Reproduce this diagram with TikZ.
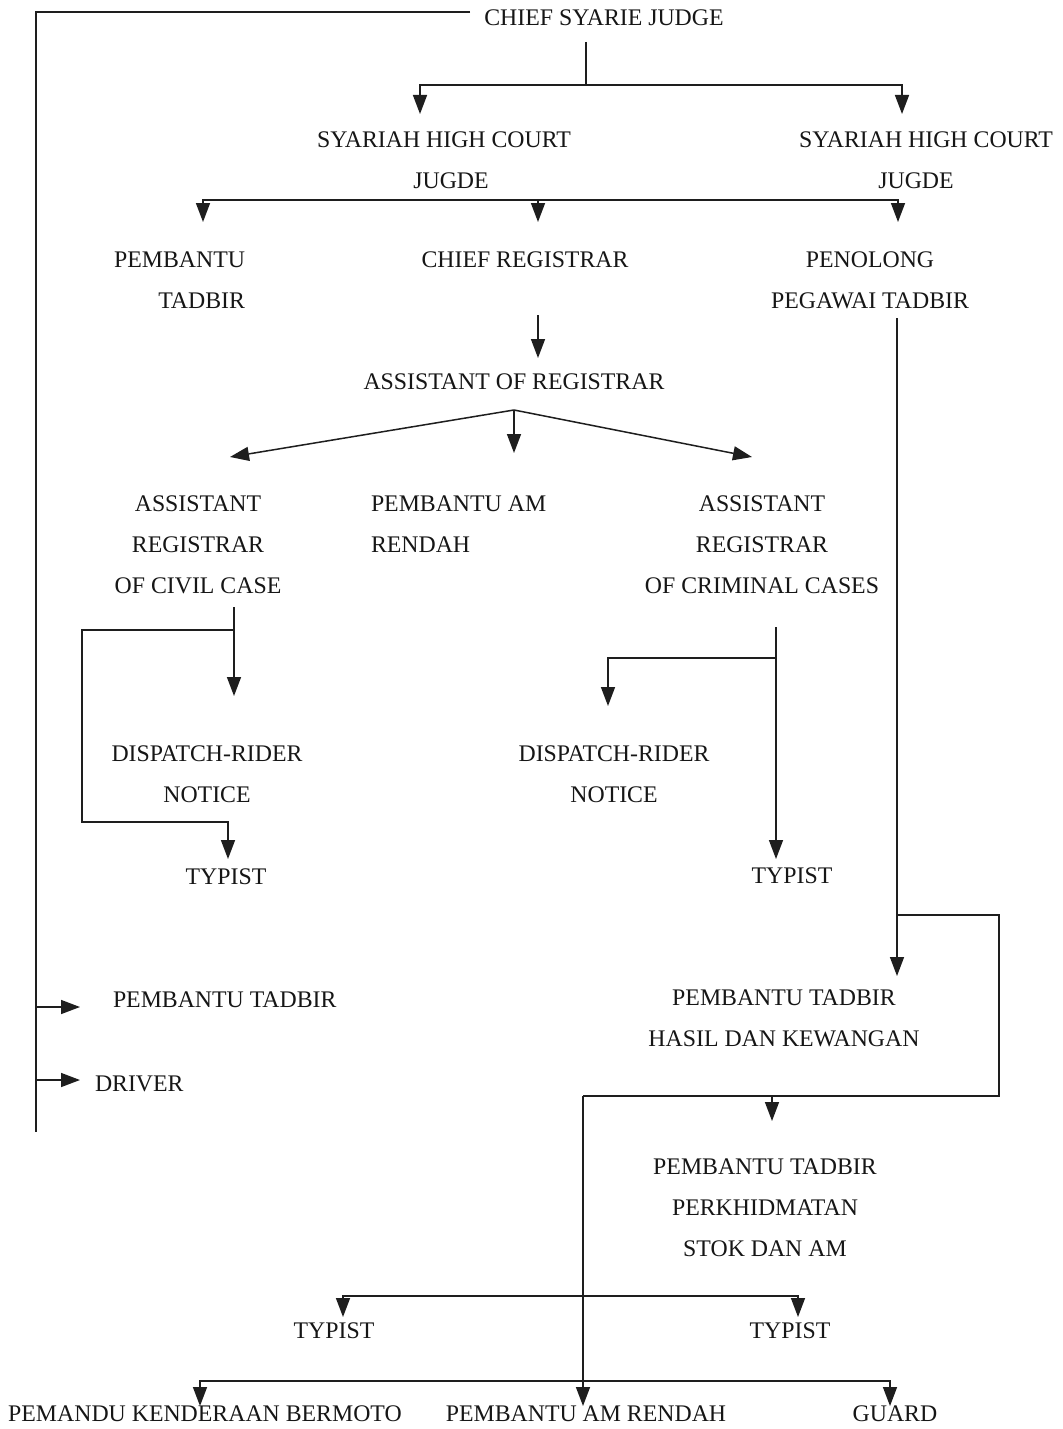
\documentclass[tikz,border=0pt]{standalone}
\usepackage{fontspec}
\setmainfont{Liberation Serif}
\usetikzlibrary{arrows.meta}
\definecolor{linec}{HTML}{1E1E1E}
\definecolor{txtc}{HTML}{161616}
\newcommand\lblfont{\fontsize{11.9}{20.5}\selectfont}
\begin{document}
\begin{tikzpicture}[x=0.5pt,y=-0.5pt,
  every node/.style={inner sep=0pt, outer sep=0pt, font=\lblfont, text=txtc},
  lbl/.style={anchor=north, align=center},
  ln/.style={line width=0.75pt, draw=linec},
  arr/.style={ln, -{Triangle[length=9.5pt,width=7pt]}},
  arrs/.style={ln, {Triangle[length=9.5pt,width=7pt]}-{Triangle[length=9.5pt,width=7pt]}}]
\fill[white] (0,0) rectangle (1062,1429);
\useasboundingbox (0,0) rectangle (1062,1429);

% ---------- nodes ----------
\node[lbl] (cj) at (604,10) {CHIEF SYARIE JUDGE};
\node[lbl] (shc1) at (444,132) {SYARIAH HIGH COURT\\\hspace*{7pt}JUGDE};
\node[lbl] (shc2) at (926,132) {SYARIAH HIGH COURT\\JUGDE\hspace*{10pt}};
\node[anchor=north east, align=right] (pt1) at (245,252) {PEMBANTU\\TADBIR};
\node[lbl] (cr) at (525,252) {CHIEF REGISTRAR};
\node[lbl] (ppt) at (870,252) {PENOLONG\\PEGAWAI TADBIR};
\node[lbl] (aor) at (514,374) {ASSISTANT OF REGISTRAR};
\node[lbl] (arc) at (198,496) {ASSISTANT\\REGISTRAR\\OF CIVIL CASE};
\node[anchor=north west, align=left] (par) at (371,496) {PEMBANTU AM\\RENDAH};
\node[lbl] (arcr) at (762,496) {ASSISTANT\\REGISTRAR\\OF CRIMINAL CASES};
\node[lbl] (drn1) at (207,746) {DISPATCH-RIDER\\NOTICE};
\node[lbl] (drn2) at (614,746) {DISPATCH-RIDER\\NOTICE};
\node[lbl] (ty1) at (226,869) {TYPIST};
\node[lbl] (ty2) at (792,868) {TYPIST};
\node[anchor=north west] (pt2) at (113,992) {PEMBANTU TADBIR};
\node[anchor=north west] (drv) at (95,1076) {DRIVER};
\node[lbl] (pthk) at (784,990) {PEMBANTU TADBIR\\HASIL DAN KEWANGAN};
\node[lbl] (ptp) at (765,1159) {PEMBANTU TADBIR\\PERKHIDMATAN\\STOK DAN AM};
\node[lbl] (ty3) at (334,1323) {TYPIST};
\node[lbl] (ty4) at (790,1323) {TYPIST};
\node[lbl] (pkb) at (205,1406) {PEMANDU KENDERAAN BERMOTO};
\node[lbl] (par2) at (586,1406) {PEMBANTU AM RENDAH};
\node[lbl] (grd) at (895,1406) {GUARD};

% ---------- coordinates ----------
\coordinate (cjL) at (470,12);
\coordinate (lTop) at (36,12);
\coordinate (lBot) at (36,1132);
\coordinate (lA) at (36,1007);
\coordinate (lAt) at (80,1007);
\coordinate (lB) at (36,1080);
\coordinate (lBt) at (80,1080);

\coordinate (cjS) at (586,42);
\coordinate (cjJ) at (586,85);
\coordinate (shc1t) at (420,114);
\coordinate (shc2t) at (902,114);

\coordinate (bus2) at (538,200);
\coordinate (pt1t) at (203,222);
\coordinate (crt) at (538,222);
\coordinate (pptt) at (898,222);

\coordinate (crS) at (538,315);
\coordinate (aort) at (538,358);

\coordinate (aorJ) at (514,410);
\coordinate (arct) at (230,457);
\coordinate (part) at (514,453);
\coordinate (arcrt) at (752,457);

\coordinate (arcS) at (234,607);
\coordinate (arcJ) at (234,630);
\coordinate (arcL) at (82,630);
\coordinate (arcLB) at (82,822);
\coordinate (drn1t) at (234,696);
\coordinate (ty1t) at (228,859);

\coordinate (arcrS) at (776,627);
\coordinate (arcrJ) at (776,658);
\coordinate (ty2t) at (776,859);
\coordinate (drn2t) at (608,706);

\coordinate (pptS) at (897,318);
\coordinate (pptJ) at (897,915);
\coordinate (pthkt) at (897,976);
\coordinate (rR1) at (999,915);
\coordinate (rR2) at (999,1096);
\coordinate (rJ) at (772,1096);
\coordinate (ptpt) at (772,1121);
\coordinate (rL) at (583,1096);
\coordinate (par2t) at (583,1406);

\coordinate (bus3) at (570,1296);
\coordinate (ty3t) at (343,1317);
\coordinate (ty4t) at (798,1317);

\coordinate (bus4) at (583,1381);
\coordinate (pkbt) at (200,1406);
\coordinate (grdt) at (890,1406);

% ---------- connectors ----------
\draw[ln] (cjL) -- (lTop) -- (lBot);
\draw[arr] (lA) -- (lAt);
\draw[arr] (lB) -- (lBt);

\draw[ln] (cjS) -- (cjJ);
\draw[arr] (cjJ) -| (shc1t);
\draw[arr] (cjJ) -| (shc2t);

\draw[arr] (bus2) -| (pt1t);
\draw[arr] (bus2) -- (crt);
\draw[arr] (bus2) -| (pptt);

\draw[arr] (crS) -- (aort);

\draw[arr] (aorJ) -- (arct);
\draw[arr] (aorJ) -- (part);
\draw[arr] (aorJ) -- (arcrt);

\draw[arr] (arcS) -- (drn1t);
\draw[arr] (arcJ) -- (arcL) -- (arcLB) -| (ty1t);

\draw[arr] (arcrS) -- (ty2t);
\draw[arr] (arcrJ) -| (drn2t);

\draw[arr] (pptS) -- (pthkt);
\draw[ln] (pptJ) -- (rR1) -- (rR2) -- (rL);
\draw[arr] (rJ) -- (ptpt);
\draw[arr] (rL) -- (par2t);

\draw[arrs] (ty3t) |- (bus3) -| (ty4t);
\draw[arrs] (pkbt) |- (bus4) -| (grdt);
\end{tikzpicture}
\end{document}
